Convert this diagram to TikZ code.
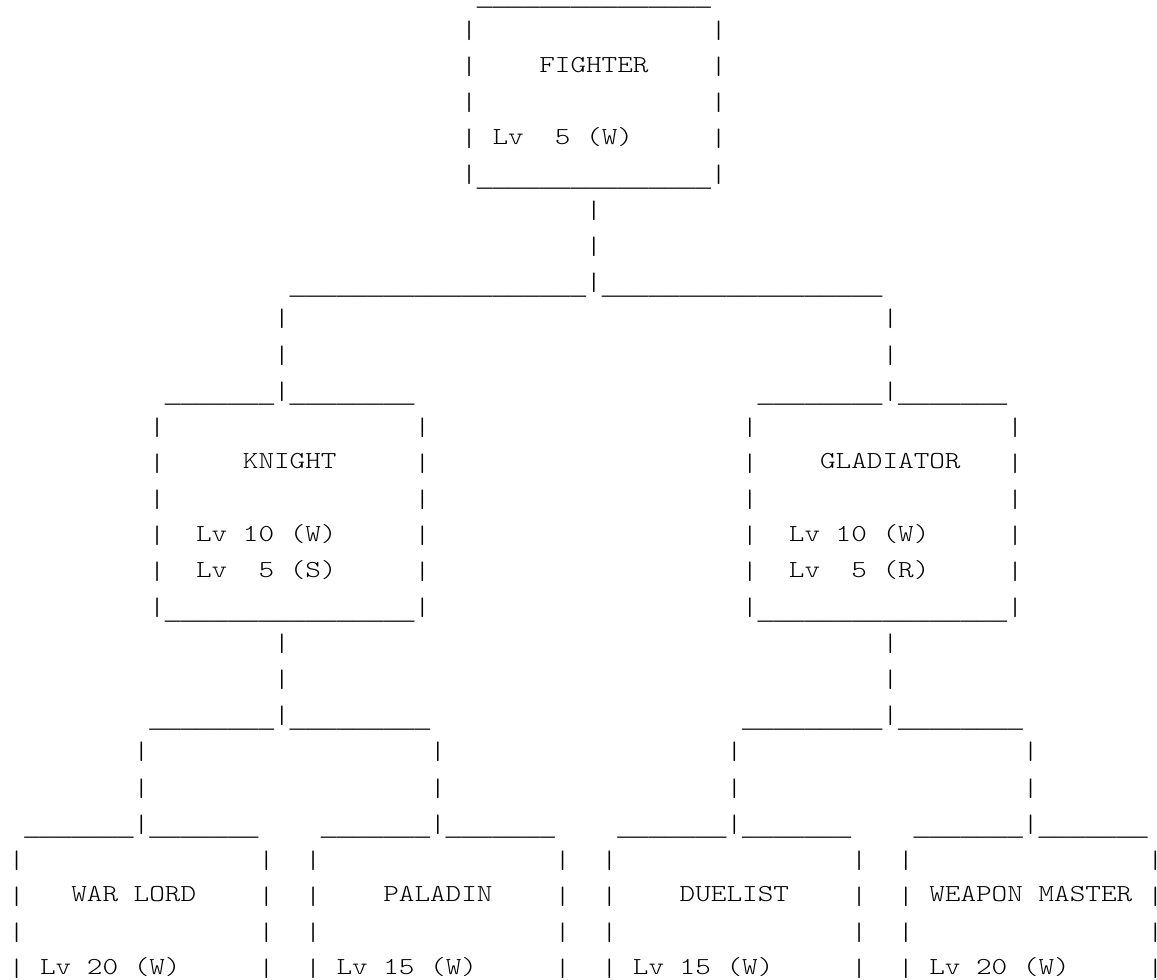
\documentclass[tikz,border=0pt]{standalone}
\usepackage{graphicx}
\usepackage{fontspec}
% Typewriter faces for the character-grid chart: one for the box strokes,
% a smaller one (widened to the same 7.8pt pitch) for the labels
\font\asciittf="[lmmonolt10-regular]" at 14.857pt
\font\labeltt="[lmmonolt10-regular]" at 12.2pt
% full-cell underscores for the horizontal rules
\newfontfamily\rulefont{Liberation Mono}
\newcommand\vb{\raisebox{-1.2pt}{\scalebox{1}[0.85]{|}}}
\newcommand\tx[1]{\scalebox{1.2185}[1]{\labeltt #1}}
\ExplSyntaxOn
\cs_new:Npn \usc #1 { \raisebox{-3pt}{ \rulefont \fontsize{13pt}{16pt} \selectfont \prg_replicate:nn {#1} { \char95 } } }
\ExplSyntaxOff
% one grid cell: row, column, text (column pitch 15.6, row pitch 36.08)
\newcommand\chr[3]{\node[ascii] (r#1c#2) at ({8.9+15.6*#2},{36.08*#1-0.16}) {#3};}
\begin{document}
\begin{tikzpicture}[x=0.5pt,y=-0.5pt,
  ascii/.style={anchor=base west, inner sep=0pt, outer sep=0pt, font=\asciittf, text=black}]
\useasboundingbox (0,0) rectangle (1157,980);
% FIGHTER
\chr{0}{30}{\usc{15}}
\foreach \r in {1,2,3,4} {\chr{\r}{29}{\vb}\chr{\r}{45}{\vb}}
\chr{2}{34}{\tx{FIGHTER}}
\chr{4}{31}{\tx{Lv\ \ 5 (W)}}
\chr{5}{29}{\vb\usc{15}\vb}
\chr{6}{37}{\vb}
\chr{7}{37}{\vb}
\chr{8}{18}{\usc{19}\vb\usc{18}}
\foreach \r in {9,10} {\chr{\r}{17}{\vb}\chr{\r}{56}{\vb}}
% KNIGHT and GLADIATOR
\chr{11}{10}{\usc{7}\vb\usc{8}}
\chr{11}{48}{\usc{8}\vb\usc{7}}
\foreach \r in {12,13,14,15,16} {\foreach \c in {9,26,47,64} {\chr{\r}{\c}{\vb}}}
\chr{13}{15}{\tx{KNIGHT}}
\chr{13}{52}{\tx{GLADIATOR}}
\chr{15}{12}{\tx{Lv 10 (W)}}
\chr{15}{50}{\tx{Lv 10 (W)}}
\chr{16}{12}{\tx{Lv\ \ 5 (S)}}
\chr{16}{50}{\tx{Lv\ \ 5 (R)}}
\chr{17}{9}{\vb\usc{16}\vb}
\chr{17}{47}{\vb\usc{16}\vb}
\foreach \r in {18,19} {\chr{\r}{17}{\vb}\chr{\r}{56}{\vb}}
\chr{20}{9}{\usc{8}\vb\usc{9}}
\chr{20}{47}{\usc{9}\vb\usc{8}}
\foreach \r in {21,22} {\foreach \c in {8,27,46,65} {\chr{\r}{\c}{\vb}}}
% third tier
\foreach \c in {1,20,39,58} {\chr{23}{\c}{\usc{7}\vb\usc{7}}}
\foreach \r in {24,25,26,27} {\foreach \c in {0,16,19,35,38,54,57} {\chr{\r}{\c}{\vb}}}
\foreach \r in {24,25,26,27} {\chr{\r}{73}{\makebox[4.5pt][l]{\vb}}}
\chr{25}{4}{\tx{WAR LORD}}
\chr{25}{24}{\tx{PALADIN}}
\chr{25}{43}{\tx{DUELIST}}
\chr{25}{59}{\tx{WEAPON MASTER}}
\chr{27}{2}{\tx{Lv 20 (W)}}
\chr{27}{21}{\tx{Lv 15 (W)}}
\chr{27}{40}{\tx{Lv 15 (W)}}
\chr{27}{59}{\tx{Lv 20 (W)}}
\end{tikzpicture}
\end{document}
